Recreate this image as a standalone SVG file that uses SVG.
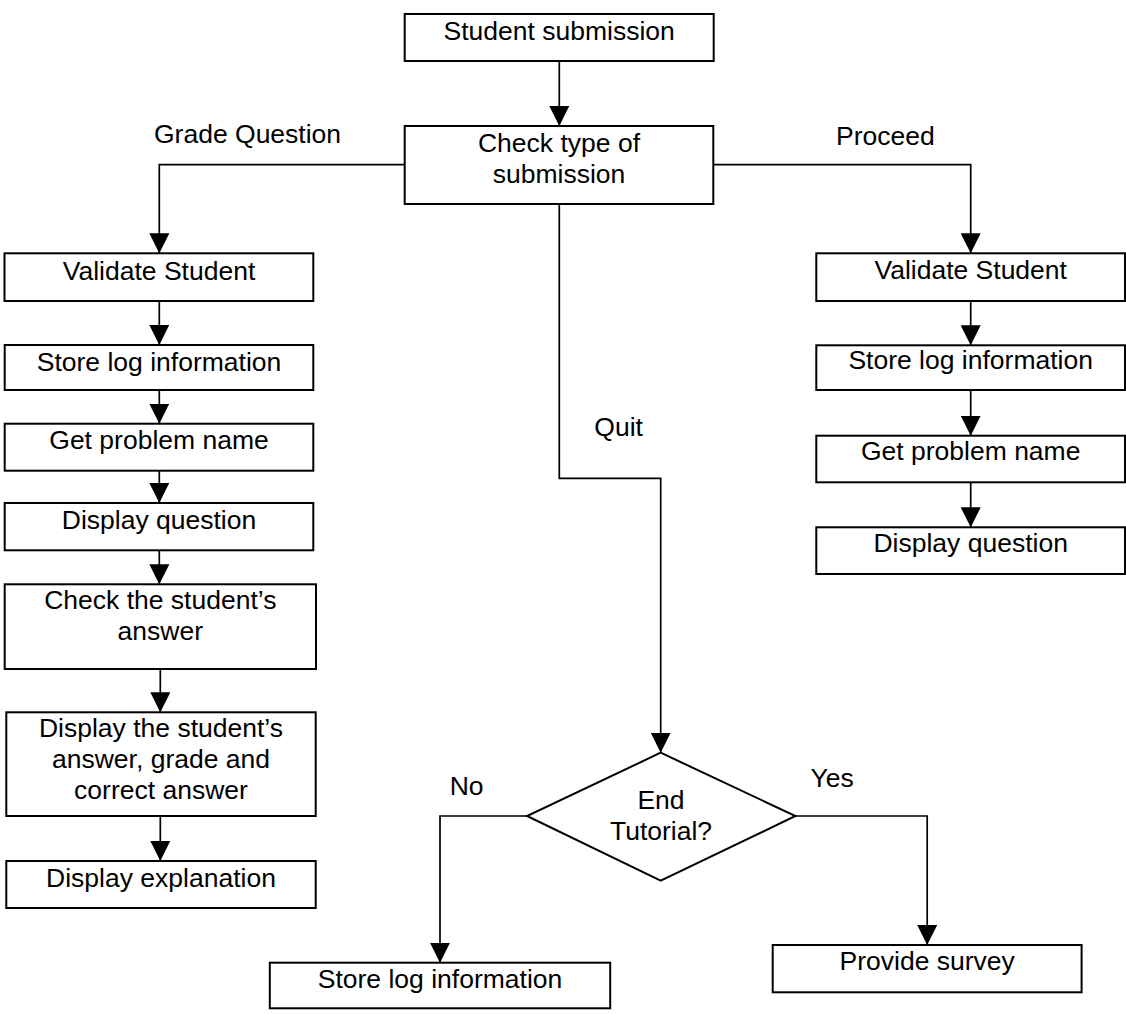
<svg xmlns="http://www.w3.org/2000/svg" width="1126" height="1014" viewBox="0 0 1126 1014">
<defs>
<style>
.box{fill:#fff;stroke:#000;stroke-width:2}
.ln{fill:none;stroke:#000;stroke-width:1.7}
text{font-family:"Liberation Sans",Arial,sans-serif;font-size:26.5px;fill:#000}
.c{text-anchor:middle}
</style>
<marker id="ah" markerUnits="userSpaceOnUse" markerWidth="20" markerHeight="20" refX="20" refY="10" orient="auto" viewBox="0 0 20 20">
<path d="M0,0 L20,10 L0,20 z" fill="#000"/>
</marker>
</defs>
<rect width="1126" height="1014" fill="#fff"/>
<g id="connectors">
<path class="ln" d="M559.3,61 V126" marker-end="url(#ah)"/>
<path class="ln" d="M404.7,164.7 H159.3 V253.3" marker-end="url(#ah)"/>
<path class="ln" d="M713.3,164.7 H970.7 V253.3" marker-end="url(#ah)"/>
<path class="ln" d="M559.3,204 V478.3 H660.7 V752.7" marker-end="url(#ah)"/>
<path class="ln" d="M159.3,301 V345" marker-end="url(#ah)"/>
<path class="ln" d="M159.3,390 V423.7" marker-end="url(#ah)"/>
<path class="ln" d="M159.3,470.7 V503" marker-end="url(#ah)"/>
<path class="ln" d="M159.3,550.3 V584.3" marker-end="url(#ah)"/>
<path class="ln" d="M160.3,669 V712.3" marker-end="url(#ah)"/>
<path class="ln" d="M160.3,816 V861" marker-end="url(#ah)"/>
<path class="ln" d="M970.7,301 V345.3" marker-end="url(#ah)"/>
<path class="ln" d="M970.7,390 V435.7" marker-end="url(#ah)"/>
<path class="ln" d="M970.7,482.3 V527.3" marker-end="url(#ah)"/>
<path class="ln" d="M527,816 H440 V962.7" marker-end="url(#ah)"/>
<path class="ln" d="M795.4,816 H927.2 V945" marker-end="url(#ah)"/>
</g>
<g id="labels">
<text x="154" y="142.7">Grade Question</text>
<text x="836" y="145">Proceed</text>
<text x="594.3" y="436">Quit</text>
<text x="449.7" y="795">No</text>
<text x="810.6" y="786.7">Yes</text>
</g>
<g id="n-student-submission">
<rect class="box" x="404.7" y="14" width="309" height="47"/>
<text class="c" x="559.2" y="40">Student submission</text>
</g>
<g id="n-check-type">
<rect class="box" x="404.7" y="126" width="308.6" height="78"/>
<text class="c" x="559" y="151.7">Check type of</text>
<text class="c" x="559" y="182.7">submission</text>
</g>
<g id="n-validate-left">
<rect class="box" x="4.5" y="253.3" width="308.8" height="47.7"/>
<text class="c" x="159" y="280">Validate Student</text>
</g>
<g id="n-storelog-left">
<rect class="box" x="4.7" y="345" width="308.6" height="45"/>
<text class="c" x="159" y="370.7">Store log information</text>
</g>
<g id="n-getproblem-left">
<rect class="box" x="4.7" y="423.7" width="308.6" height="47"/>
<text class="c" x="159" y="449">Get problem name</text>
</g>
<g id="n-displayq-left">
<rect class="box" x="4.7" y="503" width="308.6" height="47.3"/>
<text class="c" x="159" y="529">Display question</text>
</g>
<g id="n-check-answer">
<rect class="box" x="4.7" y="584.3" width="311.3" height="84.7"/>
<text class="c" x="160.3" y="609.3">Check the student’s</text>
<text class="c" x="160.3" y="640">answer</text>
</g>
<g id="n-display-answer">
<rect class="box" x="6.3" y="712.3" width="309.4" height="103.7"/>
<text class="c" x="161" y="737.3">Display the student’s</text>
<text class="c" x="161" y="768.3">answer, grade and</text>
<text class="c" x="161" y="799">correct answer</text>
</g>
<g id="n-display-explanation">
<rect class="box" x="6.3" y="861" width="309.4" height="47"/>
<text class="c" x="161" y="887">Display explanation</text>
</g>
<g id="n-validate-right">
<rect class="box" x="816.3" y="253.3" width="308.7" height="47.7"/>
<text class="c" x="970.7" y="279.3">Validate Student</text>
</g>
<g id="n-storelog-right">
<rect class="box" x="816.3" y="345.3" width="308.7" height="44.7"/>
<text class="c" x="970.7" y="369.3">Store log information</text>
</g>
<g id="n-getproblem-right">
<rect class="box" x="816.3" y="435.7" width="308.7" height="46.6"/>
<text class="c" x="970.7" y="460">Get problem name</text>
</g>
<g id="n-displayq-right">
<rect class="box" x="816.3" y="527.3" width="308.7" height="46.7"/>
<text class="c" x="970.7" y="551.7">Display question</text>
</g>
<g id="n-end-tutorial">
<polygon class="box" points="660.7,752.7 795.4,816 660.7,880.7 527,816"/>
<text class="c" x="661" y="809.3">End</text>
<text class="c" x="661" y="840">Tutorial?</text>
</g>
<g id="n-storelog-bottom">
<rect class="box" x="269.8" y="962.7" width="340.4" height="45.6"/>
<text class="c" x="440" y="988">Store log information</text>
</g>
<g id="n-provide-survey">
<rect class="box" x="772.7" y="945" width="308.9" height="47.3"/>
<text class="c" x="927.2" y="970">Provide survey</text>
</g>
</svg>
